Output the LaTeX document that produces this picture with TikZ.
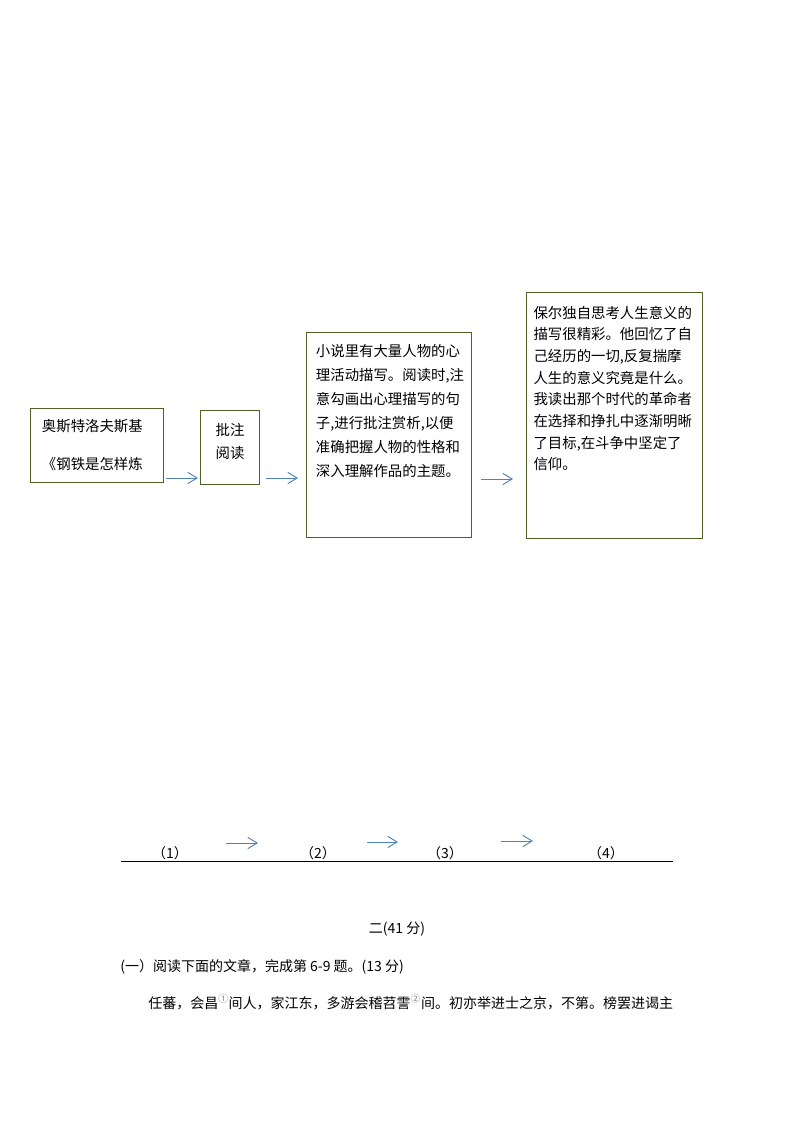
\documentclass[tikz,border=0pt]{standalone}
\usepackage{fontspec}
\newfontfamily\cjk{Noto Sans CJK SC}
\usetikzlibrary{arrows.meta}
\definecolor{boxgreen}{HTML}{4F6228}
\definecolor{flowblue}{HTML}{4F81BD}
\begin{document}
\begin{tikzpicture}[x=0.75pt,y=-0.75pt,
    box/.style={draw=boxgreen,line width=0.9pt,anchor=north west,inner sep=0pt},
    txt/.style={font=\cjk\fontsize{10.8pt}{#1}\selectfont,align=left,anchor=base west,inner sep=0pt},
    txt/.default=17.9pt,
    flow/.style={draw=flowblue,line width=0.7pt,-{Straight Barb[length=7pt,width=8.5pt]}},
    body/.style={font=\cjk\fontsize{10.5pt}{12pt}\selectfont,inner sep=0pt}]
            \useasboundingbox (0,0) rectangle (794,1123);
            \node[box,minimum width=99.75pt,minimum height=55.5pt] (writer) at (30,408) {};
            \node[box,minimum width=44.25pt,minimum height=55.5pt] (method) at (200,410) {};
            \node[box,minimum width=123.75pt,minimum height=153.75pt] (skill) at (306,332) {};
            \node[box,minimum width=132pt,minimum height=184.5pt] (gain) at (526,292) {};
            \node[txt=28pt] (writertext) at ([shift={(11.7,61.3)}]writer.north west) {奥斯特洛夫斯基\\《钢铁是怎样炼};
            \node[txt=17.5pt,align=center,anchor=base] (methodtext) at ([shift={(0,48.7)}]method.north) {批注\\阅读};
            \node[txt] (skilltext) at ([shift={(9.7,144.3)}]skill.north west) {小说里有大量人物的心\\理活动描写。阅读时,注\\意勾画出心理描写的句\\子,进行批注赏析,以便\\准确把握人物的性格和\\深入理解作品的主题。};
            \node[txt=16.25pt] (gaintext) at ([shift={(7.3,177.7)}]gain.north west) {保尔独自思考人生意义的\\描写很精彩。他回忆了自\\己经历的一切,反复揣摩\\人生的意义究竟是什么。\\我读出那个时代的革命者\\在选择和挣扎中逐渐明晰\\了目标,在斗争中坚定了\\信仰。};
            \coordinate (a1s) at (166,478); \coordinate (a1e) at (198,478);
            \coordinate (a2s) at (266,478); \coordinate (a2e) at (298,478);
            \coordinate (a3s) at (481,479); \coordinate (a3e) at (513,479);
            \draw[flow] (a1s) -- (a1e);
            \draw[flow] (a2s) -- (a2e);
            \draw[flow] (a3s) -- (a3e);
            \node[body,anchor=base] (step1) at (170,858) {（1）};
            \node[body,anchor=base] (step2) at (318,858) {（2）};
            \node[body,anchor=base] (step3) at (445,858) {（3）};
            \node[body,anchor=base] (step4) at (606,858) {（4）};
            \draw[line width=0.75pt] (121,861) -- (673,861);
            \coordinate (b1s) at (226,843); \coordinate (b1e) at (258,843);
            \coordinate (b2s) at (367,842); \coordinate (b2e) at (398,842);
            \coordinate (b3s) at (501,841); \coordinate (b3e) at (533,841);
            \draw[flow] (b1s) -- (b1e);
            \draw[flow] (b2s) -- (b2e);
            \draw[flow] (b3s) -- (b3e);
            \node[body,anchor=base] (part) at (397,933) {二(41 分)};
            \node[body,anchor=base west] (intro) at (120,971.5) {(一）阅读下面的文章，完成第 6-9 题。(13 分)};
            \node[body,anchor=base west] (passage) at (148,1008) {任蕃，会昌{\color{gray}\textsuperscript{①}}间人，家江东，多游会稽苕霅{\color{gray}\textsuperscript{②}}间。初亦举进士之京，不第。榜罢进谒主};
        \end{tikzpicture}
\end{document}
